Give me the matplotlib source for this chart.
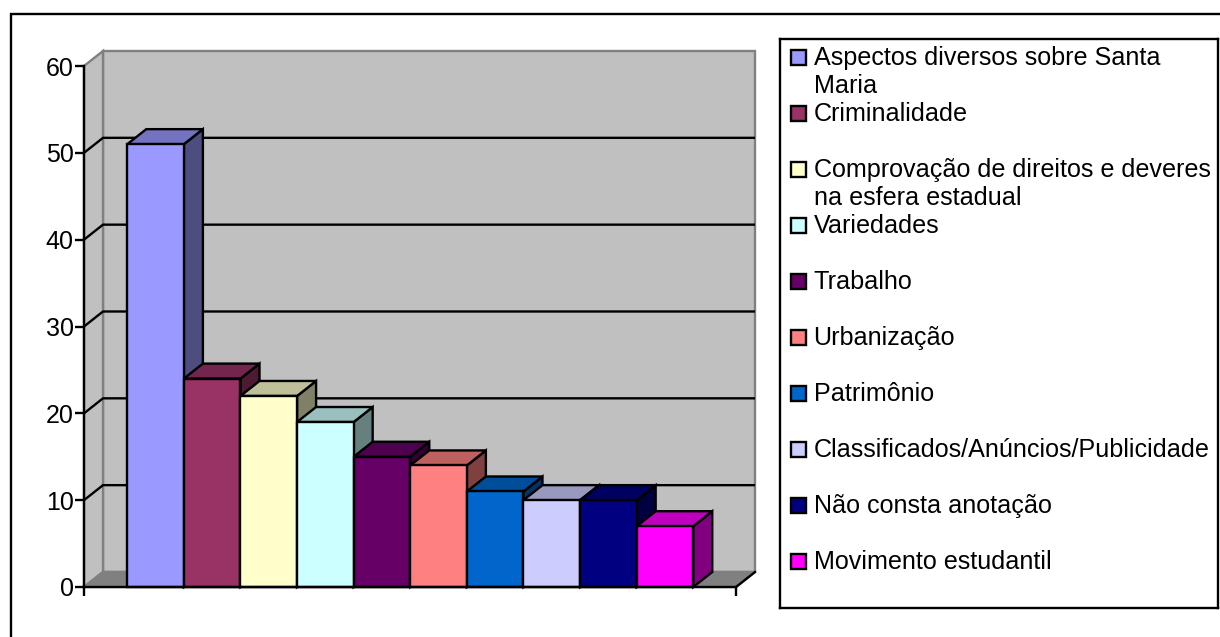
import matplotlib
matplotlib.use('Agg')
import matplotlib.pyplot as plt
from matplotlib.patches import Polygon, Rectangle

categories = [
    'Aspectos diversos sobre Santa\nMaria',
    'Criminalidade',
    'Comprovação de direitos e deveres\nna esfera estadual',
    'Variedades',
    'Trabalho',
    'Urbanização',
    'Patrimônio',
    'Classificados/Anúncios/Publicidade',
    'Não consta anotação',
    'Movimento estudantil',
]
values = [51, 24, 22, 19, 15, 14, 11, 10, 10, 7]
colors = ['#9999FF', '#993366', '#FFFFCC', '#CCFFFF', '#660066',
          '#FF8080', '#0066CC', '#CCCCFF', '#000080', '#FF00FF']
y_ticks = [0, 10, 20, 30, 40, 50, 60]

W, H = 1220, 637
LW = 1.7
plt.rcParams['font.family'] = ['Liberation Sans', 'DejaVu Sans']


def px_axes(fig, left, top, right, bottom, **kw):
    return fig.add_axes([left / W, 1 - bottom / H, (right - left) / W, (bottom - top) / H], **kw)


def shade(hex_color, k):
    r, g, b = matplotlib.colors.to_rgb(hex_color)
    return (r * k, g * k, b * k)


fig = plt.figure(figsize=(W / 100, H / 100), dpi=100, facecolor='white')
# outer frame runs off the right and bottom edges
fig.add_artist(Rectangle((11 / W, -10 / H), 1240 / W, (623 + 10) / H, transform=fig.transFigure,
                         fill=False, edgecolor='black', lw=LW))

ax = px_axes(fig, 84, 66, 736, 587)
ax.patch.set_visible(False)
ax.set_xlim(-0.765, len(values) + 0.755)
ax.set_ylim(0, 60)

# oblique offset of the back plane, in data units
dx = 19 / 56.6
dy = 15 / 8.68
x0, x1 = ax.get_xlim()
y0, y1 = ax.get_ylim()

# walls and floor
ax.add_patch(Polygon([(x0 + dx, y0 + dy), (x1 + dx, y0 + dy), (x1 + dx, y1 + dy), (x0 + dx, y1 + dy)],
                     facecolor='#C0C0C0', edgecolor='#808080', lw=LW, clip_on=False, zorder=1))
ax.add_patch(Polygon([(x0, y0), (x0 + dx, y0 + dy), (x0 + dx, y1 + dy), (x0, y1)],
                     facecolor='#C0C0C0', edgecolor='#808080', lw=LW, clip_on=False, zorder=1))
ax.add_patch(Polygon([(x0, y0), (x1, y0), (x1 + dx, y0 + dy), (x0 + dx, y0 + dy)],
                     facecolor='#808080', edgecolor='#808080', lw=LW, clip_on=False, zorder=1))
ax.plot([x1, x1 + dx], [y0, y0 + dy], color='black', lw=LW, clip_on=False, zorder=2)

# gridlines run along the side wall and the back wall
for t in y_ticks[1:-1]:
    ax.plot([x0, x0 + dx, x1 + dx], [t, t + dy, t + dy], color='black', lw=LW,
            clip_on=False, zorder=2, solid_joinstyle='miter', solid_capstyle='butt')

# each bar is drawn over the side of the previous one
for i, (v, c) in enumerate(zip(values, colors)):
    z = 3 + i
    ax.add_patch(Polygon([(i + 1, 0), (i + 1 + dx, dy), (i + 1 + dx, v + dy), (i + 1, v)],
                         facecolor=shade(c, 0.5), edgecolor='black', lw=LW, clip_on=False, zorder=z))
    ax.add_patch(Polygon([(i, v), (i + dx, v + dy), (i + 1 + dx, v + dy), (i + 1, v)],
                         facecolor=shade(c, 0.75), edgecolor='black', lw=LW, clip_on=False, zorder=z))
    ax.bar(i, v, width=1, align='edge', color=c, edgecolor='black', lw=LW, clip_on=False, zorder=z)

for side in ('top', 'right'):
    ax.spines[side].set_visible(False)
for side in ('left', 'bottom'):
    ax.spines[side].set_linewidth(LW)
    ax.spines[side].set_zorder(20)
ax.set_xticks([x0, x1])
ax.set_xticklabels([])
ax.set_yticks(y_ticks)
ax.tick_params(axis='both', length=6.5, width=LW, color='black', labelsize=18, pad=1)

# legend panel: one row per category, two text lines high
leg = px_axes(fig, 780, 39, 1218, 608)
leg.set_xlim(780, 1218)
leg.set_ylim(608, 39)
leg.set_xticks([])
leg.set_yticks([])
for s in leg.spines.values():
    s.set_linewidth(LW)
for i, (name, c) in enumerate(zip(categories, colors)):
    y = 57 + 56 * i
    leg.add_patch(Rectangle((791, y - 7.5), 15, 15, facecolor=c, edgecolor='black', lw=LW))
    leg.text(813.5, y - 11, name, fontsize=18.1, va='top', ha='left', linespacing=1.2, color='black')

fig.savefig('out.png', dpi=100)
